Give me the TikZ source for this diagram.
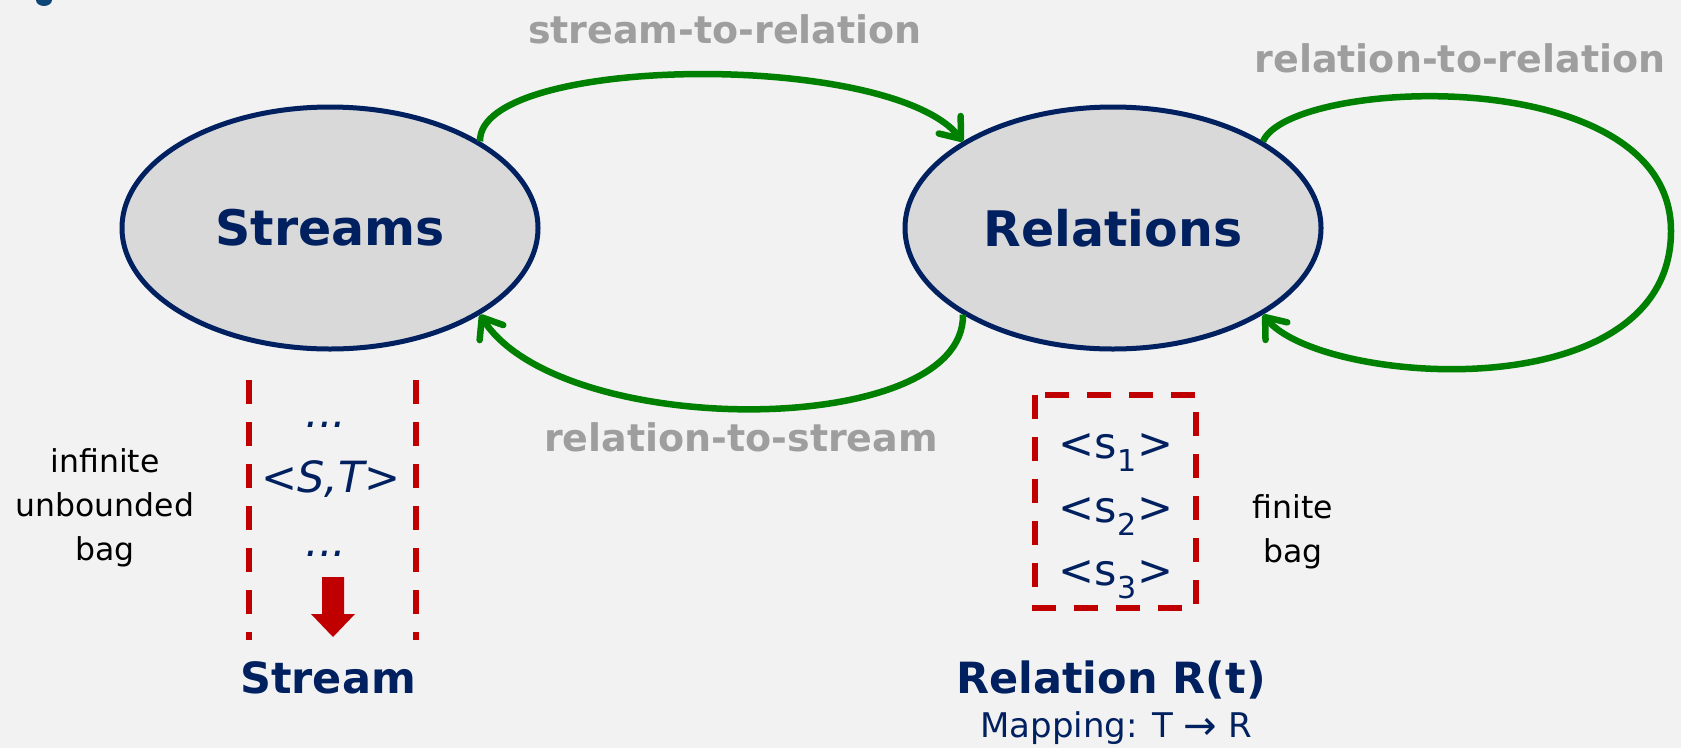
\documentclass[tikz,border=0pt]{standalone}
\usepackage{fontspec}
\setmainfont{DejaVu Sans}
\usetikzlibrary{shapes.geometric,arrows.meta}

\definecolor{navy}{RGB}{0,32,96}
\definecolor{leaf}{RGB}{0,128,0}
\definecolor{bagred}{RGB}{192,0,0}
\definecolor{opgray}{RGB}{158,158,158}
\definecolor{paper}{RGB}{242,242,242}
\definecolor{setfill}{RGB}{217,217,217}
\definecolor{titleblue}{RGB}{14,70,120}

\tikzset{
    bigset/.style={ellipse, draw=navy, line width=5pt, fill=setfill, minimum width=416pt, minimum height=242pt, inner sep=0, text=navy, font=\fontsize{49}{58}\selectfont\bfseries},
    oplabel/.style={text=opgray, font=\fontsize{38}{46}\selectfont\bfseries},
    flow/.style={draw=leaf, line width=6.5pt, -{Straight Barb[length=18pt,width=28pt,round]}},
    bagline/.style={draw=bagred, line width=6.5pt, dash pattern=on 24pt off 18pt},
    tuple/.style={text=navy, anchor=base, font=\fontsize{43}{50}\selectfont},
    note/.style={align=center, font=\fontsize{31.5}{44}\selectfont},
    bagname/.style={text=navy, anchor=base, font=\fontsize{43}{52}\selectfont\bfseries}
}

\begin{document}
\begin{tikzpicture}[x=1pt, y=-1pt]
    \fill[paper] (0,0) rectangle (1681,748);
    \useasboundingbox (0,0) rectangle (1681,748);
    \fill[titleblue] (36,0) arc[start angle=180, end angle=360, x radius=8pt, y radius=6pt] -- cycle;

    % the two kinds of data
    \node[bigset] (st) at (330,228) {Streams};
    \node[bigset] (rel) at (1113,228) {Relations};

    % operator classes
    \coordinate (loop) at (1671,231);
    \draw[flow] (st.30) .. controls (478,55) and (890,50) .. (rel.150);
    \draw[flow] (rel.210) .. controls (965,440) and (560,440) .. (st.-30);
    \draw[flow] (rel.30) .. controls (1290,78) and (1671,60) .. (loop)
        .. controls (1671,412) and (1320,385) .. (rel.-30);
    \node[oplabel] (s2r) at (725,29) {stream-to-relation};
    \node[oplabel] (r2r) at (1460,58) {relation-to-relation};
    \node[oplabel] (r2s) at (741,437) {relation-to-stream};

    % a stream: open at both ends
    \draw[bagline] (249,380) -- (249,640);
    \draw[bagline] (416,380) -- (416,640);
    \node[tuple] (dotsa) at (326,427) {\itshape...};
    \node[tuple] (pair) at (331,492) {\itshape<S,T>};
    \node[tuple] (dotsb) at (326,556) {\itshape...};
    \fill[bagred] (322,577) -- (344,577) -- (344,614) -- (355,614) -- (333,637) -- (311,614) -- (322,614) -- cycle;
    \node[note] (inf) at (105,508) {infinite\\unbounded\\bag};
    \node[bagname] (sname) at (328,693) {Stream};

    % a relation at one instant
    \draw[bagline] (1035,395) rectangle (1196,608);
    \node[tuple] (s1) at (1116,458) {<s\textsubscript{1}>};
    \node[tuple] (s2) at (1116,522) {<s\textsubscript{2}>};
    \node[tuple] (s3) at (1116,585) {<s\textsubscript{3}>};
    \node[note] (fin) at (1293,532) {finite\\bag};
    \node[bagname] (rname) at (1111,693) {Relation R(t)};
    \node[text=navy, anchor=base, font=\fontsize{34}{40}\selectfont] (map) at (1116,737)
        {Mapping: T {\fontsize{40}{40}\selectfont\raisebox{-2pt}{→}} R};
\end{tikzpicture}
\end{document}
